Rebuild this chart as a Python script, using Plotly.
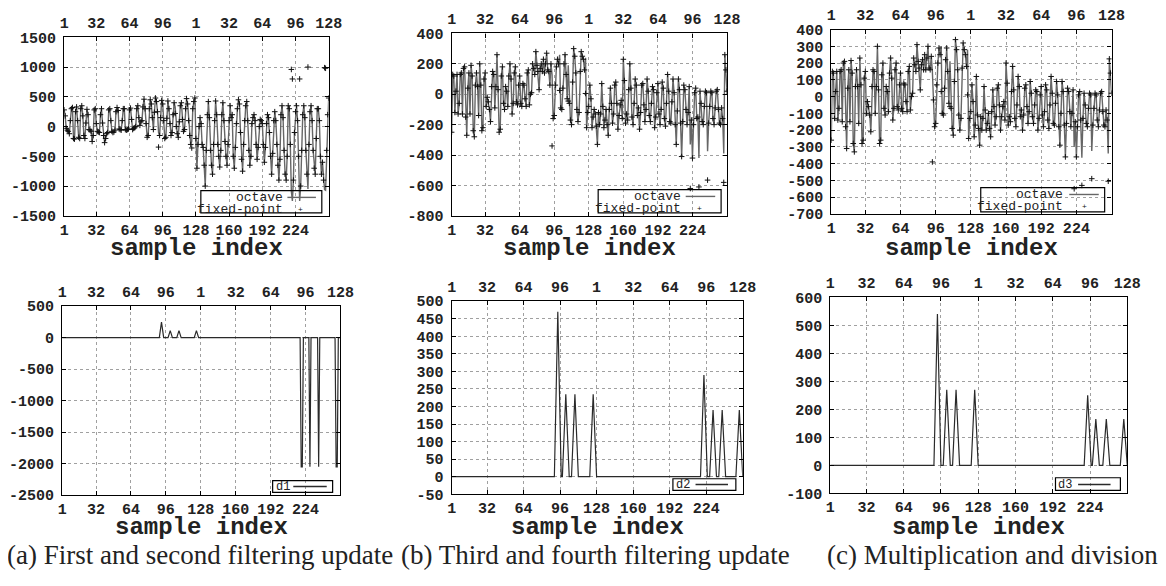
import plotly.graph_objects as go

# ---------------- data ----------------
sample_index = list(range(1, 257))

octave_a = [
    280, 180, -30, -60, -80, -120, 100,
    300, 320, -200, -210, 250, 330, 100,
    -180, -200, 300, 350, 180, -150, -200,
    60, 290, 200, -50, -60, -80, -250,
    -150, 280, 300, 50, -80, -90, -100,
    200, 300, 60, -150, -270, -200, -120,
    -100, 280, 300, 100, -80, -100, -90,
    -60, 250, 320, 270, -40, -50, -60,
    100, 300, 300, -50, -60, -50, -40,
    280, 310, 120, -50, -30, -20, 0,
    300, 350, 150, 20, 80, 100, 330,
    460, 300, 50, -180, -150, 300, 450,
    380, 150, -50, 240, 480, 420, 250,
    -100, -150, 150, 440, 380, 100, -200,
    -180, 250, 430, 300, 50, -150, -100,
    200, 400, 330, 0, -120, -180, 80,
    350, 400, 120, -80, -50, 300, 470,
    380, 100, -150, -300, -250, 300, 420,
    480, -200, -700, -300, 0, 150, 50,
    -300, -350, -650, -1000, -400, 200, 420,
    150, -400, -650, -800, -300, 100, 430,
    200, -300, -500, -680, -400, 200, 400,
    100, -250, -500, -650, -300, 100, 350,
    150, 200, -500, -700, -350, 50, 300,
    450, 380, -100, -550, -750, -300, 100,
    350, 420, 100, -400, -650, -500, 50,
    150, 200, 100, -300, -550, -350, 0,
    120, 100, 50, -300, -600, -350, 50,
    200, 150, -100, -500, -800, -450, 100,
    250, 100, -300, -650, -900, -550, 200,
    350, 150, -400, -800, -900, -500, 350,
    300, -300, -1090, -1250, -900, -100, 250,
    350, 100, -500, -1250, -1000, -400, 200,
    350, 150, -400, -800, -1050, -300, 250,
    350, 100, -400, -700, -800, -200, 300,
    300, 100, -500, -800, -600, -900, -1060,
    -1070, -400, 200, 480,
]

octave_b = [
    -250, 130, 120, -120, 20, 130,
    -130, -60, 130, 140, -130, 170,
    180, -150, -270, 40, 140, -130,
    190, 120, -240, -280, 60, 140,
    50, -140, 200, 60, -240, -220,
    100, 140, -80, -20, -50, -100,
    -180, 50, 150, 130, -90, 50,
    260, 30, -250, -230, 120, 180,
    -60, -100, 50, 20, -80, 120,
    200, 100, -130, -60, 140, 180,
    -50, -70, 60, 120, -60, -80,
    70, 60, -30, -80, 140, 160,
    -70, 0, 10, 200, 170, 130,
    280, 190, 150, 30, 170, 200,
    150, 230, 140, 200, 270, 160,
    150, 60, 200, 130, -160, -140,
    60, 180, 230, 200, 260, -90,
    -100, 40, 200, 260, 130, -30,
    190, -60, -170, -200, 80, 300,
    250, 140, -100, -180, -120, 150,
    280, 250, 230, 160, 240, -220,
    -120, -80, 60, -30, -220, -150,
    -100, -130, -210, -330, -120, -200,
    -130, 70, -80, -220, -170, -100,
    -200, -270, -100, 40, -60, -190,
    -130, 60, 80, -60, -230, -140,
    -70, -40, -160, 230, 90, -190,
    -130, -170, 30, 200, 40, -150,
    -200, -60, 100, 60, -140, -90,
    -230, -120, 60, 70, -70, -180,
    -100, 100, 20, -140, -180, -60,
    50, 30, -220, -150, 10, 70,
    -130, -200, -100, 80, 40, -160,
    -210, -60, 130, 20, -180, -190,
    -50, 100, 10, -200, -330, -110,
    100, 30, -190, -410, -180, 60,
    30, -100, -200, -120, 50, -330,
    -170, -420, -200, 10, 40, -160,
    -150, -420, 20, -60, -180, -200,
    -80, 20, 10, -375, -190, -80,
    20, 10, -160, -200, -90, 20,
    30, -100, -190, -200, -90, -160,
    -390, 260, 160, 20,
]

octave_c = [
    -260, 150, 140, -130, 30, 150,
    -140, -70, 150, 160, -150, 200,
    210, -180, -310, 50, 160, -150,
    215, 140, -280, -330, 60, 160,
    60, -160, 230, 70, -280, -260,
    110, 150, -100, -30, -60, -110,
    -210, 60, 160, 150, -100, 60,
    300, 40, -280, -260, 130, 200,
    -70, -110, 60, 30, -90, 140,
    230, 110, -140, -70, 160, 200,
    -60, -80, 70, 140, -70, -90,
    80, 70, -30, -90, 150, 180,
    -80, 0, 20, 230, 190, 150,
    310, 210, 170, 40, 190, 220,
    160, 250, 160, 230, 300, 170,
    160, 240, 150, -20, -180, -160,
    70, 200, 290, 250, 300, -100,
    -110, 50, 220, 290, 150, -40,
    210, -70, -190, -230, 90, 340,
    280, 160, -110, -200, -130, 170,
    320, 280, 250, 180, 280, -250,
    -130, -90, 70, -30, -240, -170,
    120, -110, -190, -290, -120, -200,
    -130, 60, -80, -200, -160, -100,
    -190, -240, -90, 40, -60, -170,
    -120, 50, 70, -50, -200, -120,
    -60, -30, -140, 200, 80, -170,
    -120, -150, 30, 180, 40, -130,
    -180, -50, 120, 60, -120, -80,
    -200, -110, 50, 70, -60, -160,
    -90, 90, 20, -120, -160, -50,
    40, 30, -200, -130, 10, 60,
    -110, -180, -90, 70, 40, -140,
    -190, -50, 120, 20, -160, -170,
    -40, 90, 10, -180, -290, -100,
    90, 30, -170, -360, -160, 50,
    30, -90, -180, -100, 40, -300,
    -150, -360, -180, 10, 30, -140,
    -365, -130, 20, -50, -160, -180,
    -70, 20, 10, -325, -170, -70,
    20, 10, -140, -180, -80, 20,
    30, -90, -170, -180, -80, -140,
    -340, 225, 140, 20,
]

# difference curves (octave - fixed-point), given as polyline vertices
d1_x = [1, 90, 92, 94, 98, 100, 102, 106, 108, 110, 122, 124, 126,
        219, 220, 221, 222, 227, 228, 229, 235, 236, 237, 251, 252, 253, 254, 256]
d1_y = [0, 0, 245, 0, 0, 110, 0, 0, 110, 0, 0, 110, 0,
        0, -2050, -2050, 0, 0, -2050, 0, 0, -2050, 0, 0, -2050, -2050, 0, 0]

d2_x = [1, 91, 94, 97, 98, 101, 104, 106, 109, 112, 122, 125, 128,
        219, 222, 225, 227, 230, 233, 235, 238, 241, 250, 253, 256]
d2_y = [0, 0, 470, 0, 0, 235, 0, 0, 235, 0, 0, 235, 0,
        0, 290, 0, 0, 190, 0, 0, 190, 0, 0, 190, 0]

d3_x = [1, 90, 93, 96, 98, 101, 104, 106, 109, 112, 122, 125, 128,
        219, 222, 225, 226, 229, 232, 235, 238, 241, 250, 253, 256]
d3_y = [0, 0, 540, 0, 0, 270, 0, 0, 270, 0, 0, 270, 0,
        0, 250, 0, 0, 165, 0, 0, 165, 0, 0, 165, 0]

bottom_ticks = [1, 32, 64, 96, 128, 160, 192, 224]
top_ticks = [1, 32, 64, 96, 128, 160, 192, 224, 256]
top_tick_labels = ["1", "32", "64", "96", "1", "32", "64", "96", "128"]

yticks_a = [-1500, -1000, -500, 0, 500, 1000, 1500]
yticks_b = [-800, -600, -400, -200, 0, 200, 400]
yticks_c = [-700, -600, -500, -400, -300, -200, -100, 0, 100, 200, 300, 400]
yticks_d1 = [-2500, -2000, -1500, -1000, -500, 0, 500]
yticks_d2 = [-50, 0, 50, 100, 150, 200, 250, 300, 350, 400, 450, 500]
yticks_d3 = [-100, 0, 100, 200, 300, 400, 500, 600]

captions = ["(a) First and second filtering update",
            "(b) Third and fourth filtering update",
            "(c) Multiplication and division"]


def fixed_point(octave, dx, dy):
    fp = list(octave)
    for x, y in zip(dx, dy):
        if y != 0:
            fp[x - 1] = octave[x - 1] - y
    return fp


fixed_a = fixed_point(octave_a, d1_x, d1_y)
fixed_b = fixed_point(octave_b, d2_x, d2_y)
fixed_c = fixed_point(octave_c, d3_x, d3_y)

# ---------------- layout geometry (window pixels) ----------------
WIN_W, WIN_H = 1166, 586
OFF = 8                       # default page margin around the plot div
W, H = WIN_W - 2 * OFF, WIN_H - 2 * OFF


def fx(p):
    return (p - OFF) / W


def fy(p):
    return 1 - (p - OFF) / H


# left, right, top, bottom, yrange, yticks
panels = [
    (60, 329, 31, 215, [-1500, 1500], yticks_a),
    (454, 734, 27, 215, [-800, 400], yticks_b),
    (840, 1125, 23, 213, [-700, 400], yticks_c),
    (58, 341, 308, 503, [-2500, 500], yticks_d1),
    (454, 750, 303, 502, [-50, 500], yticks_d2),
    (839, 1141, 299, 501, [-100, 600], yticks_d3),
]


def bold(vals):
    return ["<b>%s</b>" % v for v in vals]


tickfont = dict(family="Liberation Mono", size=15, color="#222222", weight="bold")
gridstyle = dict(showgrid=True, gridcolor="#a0a0a0", griddash="dot", gridwidth=1)

fig = go.Figure()
layout = dict(width=W, height=H, margin=dict(l=0, r=0, t=0, b=0),
              paper_bgcolor="white", plot_bgcolor="white", showlegend=False)

for i, (l, r, t, b, yr, yt) in enumerate(panels, start=1):
    xs = "" if i == 1 else str(i)
    xt = str(i + 6)
    layout["xaxis" + xs] = dict(
        domain=[fx(l), fx(r)], anchor="y" + xs, range=[1, 256],
        tickmode="array", tickvals=bottom_ticks, ticktext=bold(bottom_ticks),
        ticks="inside", ticklen=4, tickcolor="black", tickfont=tickfont,
        ticklabelstandoff=0,
        showline=True, linecolor="black", linewidth=1.2, zeroline=False, **gridstyle)
    layout["xaxis" + xt] = dict(
        overlaying="x" + xs, anchor="y" + xs, side="top", range=[1, 256],
        tickmode="array", tickvals=top_ticks, ticktext=bold(top_tick_labels),
        ticks="inside", ticklen=4, tickcolor="black", tickfont=tickfont,
        ticklabelstandoff=2,
        showline=True, linecolor="black", linewidth=1.2, showgrid=False, zeroline=False)
    layout["yaxis" + xs] = dict(
        domain=[fy(b), fy(t)], anchor="x" + xs, range=yr,
        tickmode="array", tickvals=yt, ticktext=bold(yt),
        ticks="inside", ticklen=4, tickcolor="black", tickfont=tickfont,
        ticklabelstandoff=4,
        showline=True, linecolor="black", linewidth=1.2, mirror="ticks",
        zeroline=False, **gridstyle)
    fig.add_trace(go.Scatter(x=[], y=[], xaxis="x" + xt, yaxis="y" + xs,
                             showlegend=False, hoverinfo="skip"))

# ---------------- traces ----------------
tops = [(octave_a, fixed_a), (octave_b, fixed_b), (octave_c, fixed_c)]
for i, (oc, fp) in enumerate(tops, start=1):
    xs = "" if i == 1 else str(i)
    fig.add_trace(go.Scatter(x=sample_index, y=oc, mode="lines", name="octave",
                             line=dict(color="#666666", width=1.4),
                             xaxis="x" + xs, yaxis="y" + xs))
    fig.add_trace(go.Scatter(x=sample_index, y=fp, mode="markers", name="fixed-point",
                             marker=dict(symbol="cross-thin", size=4,
                                         line=dict(width=1, color="#111111")),
                             xaxis="x" + xs, yaxis="y" + xs))

bots = [(d1_x, d1_y, "d1"), (d2_x, d2_y, "d2"), (d3_x, d3_y, "d3")]
for j, (dx, dy, nm) in enumerate(bots, start=4):
    fig.add_trace(go.Scatter(x=dx, y=dy, mode="lines", name=nm,
                             line=dict(color="#2a2a2a", width=1.2),
                             xaxis="x" + str(j), yaxis="y" + str(j)))

# ---------------- hand-drawn gnuplot-style keys ----------------
shapes = []
annotations = []
legfont = dict(family="Liberation Mono", size=13, color="#222222")


def add_box(x0, y0, x1, y1):
    shapes.append(dict(type="rect", xref="paper", yref="paper",
                       x0=fx(x0), x1=fx(x1), y0=fy(y1), y1=fy(y0),
                       line=dict(color="black", width=1.2), fillcolor="rgba(0,0,0,0)"))


def add_line_sample(x0, x1, y, color):
    shapes.append(dict(type="line", xref="paper", yref="paper",
                       x0=fx(x0), x1=fx(x1), y0=fy(y), y1=fy(y),
                       line=dict(color=color, width=1.4)))


def add_text(x, y, text, anchor="right", font=legfont):
    annotations.append(dict(x=fx(x), y=fy(y), xref="paper", yref="paper",
                            text=text, showarrow=False, xanchor=anchor,
                            yanchor="middle", font=font))


top_keys = [
    # box(x0,y0,x1,y1), text right edge, line x0,x1, row ys, dot x
    ((199, 189, 322, 212), 285, (287, 316), (196, 208), 300),
    ((603, 188, 728, 212), 689, (692, 722), (195, 207), 706),
    ((992, 186, 1118, 211), 1078, (1082, 1112), (193, 205), 1097),
]
for box, tr, (lx0, lx1), (r1, r2), dotx in top_keys:
    add_box(*box)
    add_text(tr, r1, "octave")
    add_line_sample(lx0, lx1, r1, "#666666")
    add_text(tr, r2, "fixed-point")
    add_text(dotx, r2, "+", anchor="center",
             font=dict(family="Liberation Mono", size=8, color="#111111"))

bot_keys = [
    ((272, 488, 333, 500), 273, (293, 327), 494, "d1"),
    ((679, 486, 743, 498), 680, (702, 735), 492, "d2"),
    ((1068, 485, 1134, 498), 1069, (1091, 1124), 492, "d3"),
]
for box, tx, (lx0, lx1), ry, nm in bot_keys:
    add_box(*box)
    add_text(tx, ry, nm, anchor="left",
             font=dict(family="Liberation Mono", size=12, color="#222222"))
    add_line_sample(lx0, lx1, ry, "#2a2a2a")

# axis titles and captions
titlefont = dict(family="Liberation Mono", size=24, color="#222222", weight="bold")
for (l, r, t, b, yr, yt), ty in zip(panels, [249, 249, 249, 536, 536, 536]):
    add_text((l + r) / 2, ty, "<b>sample index</b>", anchor="center", font=titlefont)

capfont = dict(family="Liberation Serif", size=27, color="#222222")
for cx, cap in zip([198, 600, 1004], captions):
    add_text(cx, 565, cap, anchor="center", font=capfont)

layout["shapes"] = shapes
layout["annotations"] = annotations
fig.update_layout(**layout)
fig.write_html("out.html")
